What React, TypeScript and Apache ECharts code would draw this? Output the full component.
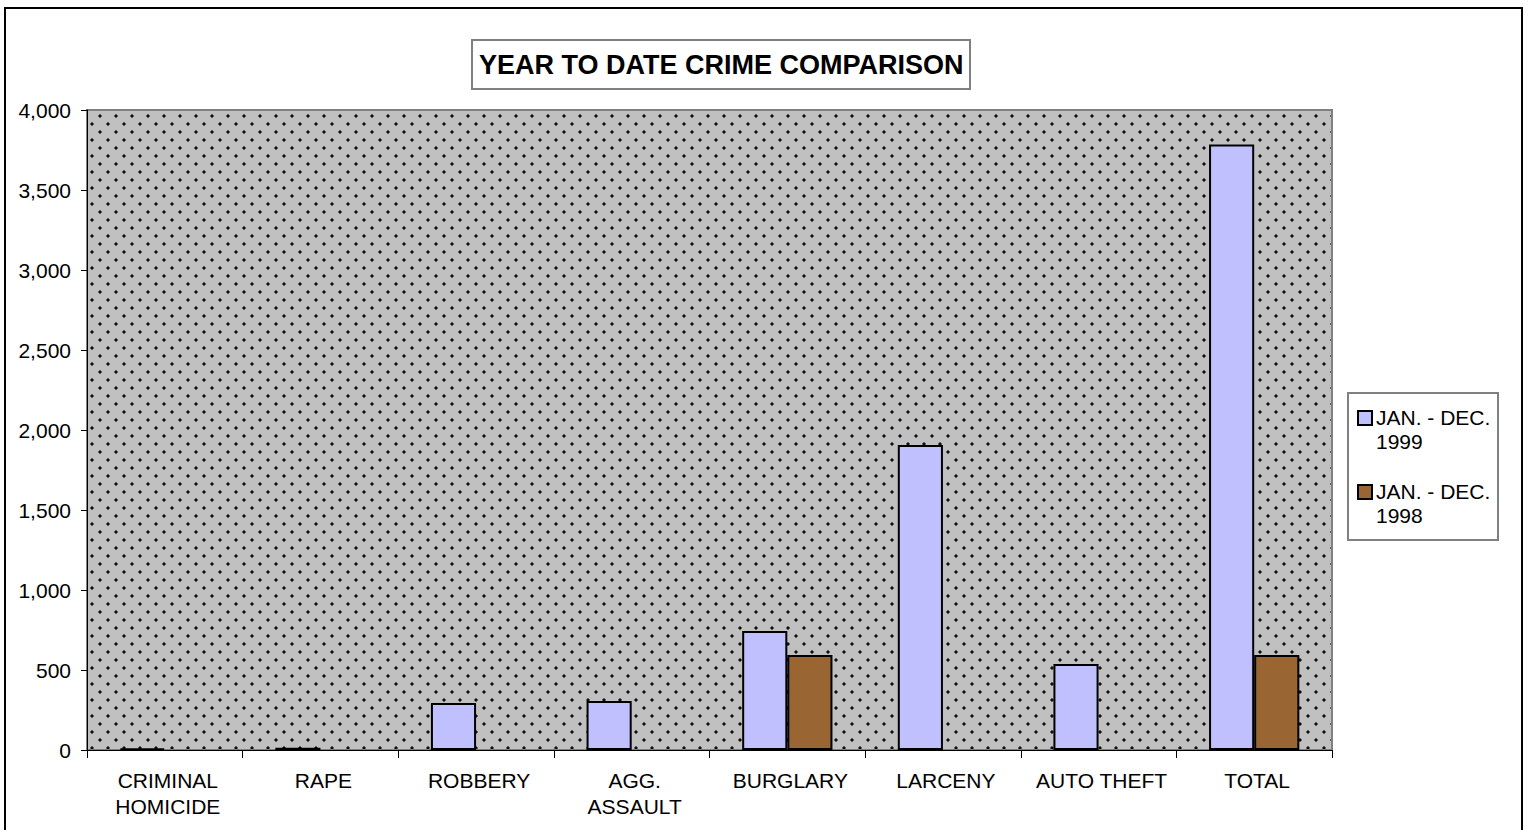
import React, { useEffect, useRef } from "react";
import * as echarts from "echarts";

const categories = [
  "CRIMINAL\nHOMICIDE",
  "RAPE",
  "ROBBERY",
  "AGG.\nASSAULT",
  "BURGLARY",
  "LARCENY",
  "AUTO THEFT",
  "TOTAL",
];
const values1999 = [8, 14, 293, 306, 743, 1906, 537, 3785];
const values1998 = [null, null, null, null, 593, null, null, 593];
const seriesNames = ["JAN. - DEC.\n1999", "JAN. - DEC.\n1998"];
const seriesColors = ["#c0c0ff", "#996633"];
const titleText = "YEAR TO DATE CRIME COMPARISON";

const FONT = "Arial, 'Liberation Sans', sans-serif";

function makePattern(): string {
  const c = document.createElement("canvas");
  c.width = 16;
  c.height = 16;
  const ctx = c.getContext("2d")!;
  ctx.fillStyle = "#c0c0c0";
  ctx.fillRect(0, 0, 16, 16);
  ctx.fillStyle = "#606060";
  ctx.fillRect(2, 2, 4, 4);
  ctx.fillRect(10, 10, 4, 4);
  ctx.fillStyle = "#c0c0c0";
  ctx.fillRect(2, 2, 1, 1);
  ctx.fillRect(5, 2, 1, 1);
  ctx.fillRect(2, 5, 1, 1);
  ctx.fillRect(5, 5, 1, 1);
  ctx.fillRect(10, 10, 1, 1);
  ctx.fillRect(13, 10, 1, 1);
  ctx.fillRect(10, 13, 1, 1);
  ctx.fillRect(13, 13, 1, 1);
  ctx.fillStyle = "#111111";
  ctx.fillRect(3, 3, 2, 2);
  ctx.fillRect(11, 11, 2, 2);
  return c.toDataURL();
}

export default function App() {
  const ref = useRef<HTMLDivElement>(null);
  useEffect(() => {
    if (!ref.current) return;
    const chart = echarts.init(ref.current, undefined, { renderer: "svg" });
    const pattern = { image: makePattern(), repeat: "repeat" };

    const legendGraphics: any[] = [
      {
        type: "rect",
        shape: { x: 1348, y: 393, width: 150, height: 147 },
        style: { fill: "#fff", stroke: "#808080", lineWidth: 2 },
        silent: true,
      },
    ];
    seriesNames.forEach((name, i) => {
      legendGraphics.push({
        type: "rect",
        shape: { x: 1358, y: 411 + i * 74, width: 14, height: 14 },
        style: { fill: seriesColors[i], stroke: "#000", lineWidth: 2 },
        silent: true,
      });
      legendGraphics.push({
        type: "text",
        x: 1376,
        y: 405 + i * 74,
        style: {
          text: name,
          font: `21px ${FONT}`,
          lineHeight: 24,
          fill: "#000",
          verticalAlign: "top",
          align: "left",
        },
        silent: true,
      });
    });

    chart.setOption({
      animation: false,
      backgroundColor: "#fff",
      title: {
        text: titleText,
        left: 472,
        top: 40,
        padding: [11, 7, 11, 7],
        borderColor: "#808080",
        borderWidth: 2,
        backgroundColor: "#fff",
        textStyle: {
          fontFamily: FONT,
          fontSize: 27,
          fontWeight: "bold",
          color: "#000",
        },
      },
      grid: {
        left: 87,
        right: 198,
        top: 110,
        bottom: 80,
        show: true,
        backgroundColor: pattern,
        borderColor: "#808080",
        borderWidth: 2,
      },
      xAxis: {
        type: "category",
        data: categories,
        boundaryGap: true,
        axisLine: { show: true, lineStyle: { color: "#000", width: 1 } },
        axisTick: { show: true, length: 8, lineStyle: { color: "#000" } },
        axisLabel: {
          interval: 0,
          fontFamily: FONT,
          fontSize: 21,
          lineHeight: 26,
          color: "#000",
          margin: 17,
          padding: [0, 0, 0, 6],
        },
        splitLine: { show: false },
      },
      yAxis: {
        type: "value",
        min: 0,
        max: 4000,
        interval: 500,
        axisLine: { show: true, lineStyle: { color: "#000", width: 1 } },
        axisTick: { show: true, length: 6, lineStyle: { color: "#000" } },
        axisLabel: {
          fontFamily: FONT,
          fontSize: 21,
          color: "#000",
          margin: 16,
          formatter: (v: number) => v.toLocaleString("en-US"),
        },
        splitLine: { show: false },
      },
      series: [
        {
          name: seriesNames[0],
          type: "bar",
          data: values1999,
          barGap: "0%",
          barCategoryGap: "42%",
          itemStyle: { color: seriesColors[0], borderColor: "#000", borderWidth: 2 },
        },
        {
          name: seriesNames[1],
          type: "bar",
          data: values1998,
          barGap: "0%",
          barCategoryGap: "42%",
          itemStyle: { color: seriesColors[1], borderColor: "#000", borderWidth: 2 },
        },
      ],
      graphic: [
        {
          type: "rect",
          shape: { x: 5, y: 8, width: 1517, height: 900 },
          style: { fill: "none", stroke: "#000", lineWidth: 2 },
          silent: true,
          z: -10,
        },
        ...legendGraphics,
      ],
    });
    return () => chart.dispose();
  }, []);
  return (
    <div
      ref={ref}
      style={{ position: "absolute", left: 0, top: 0, width: 1530, height: 830 }}
    />
  );
}
